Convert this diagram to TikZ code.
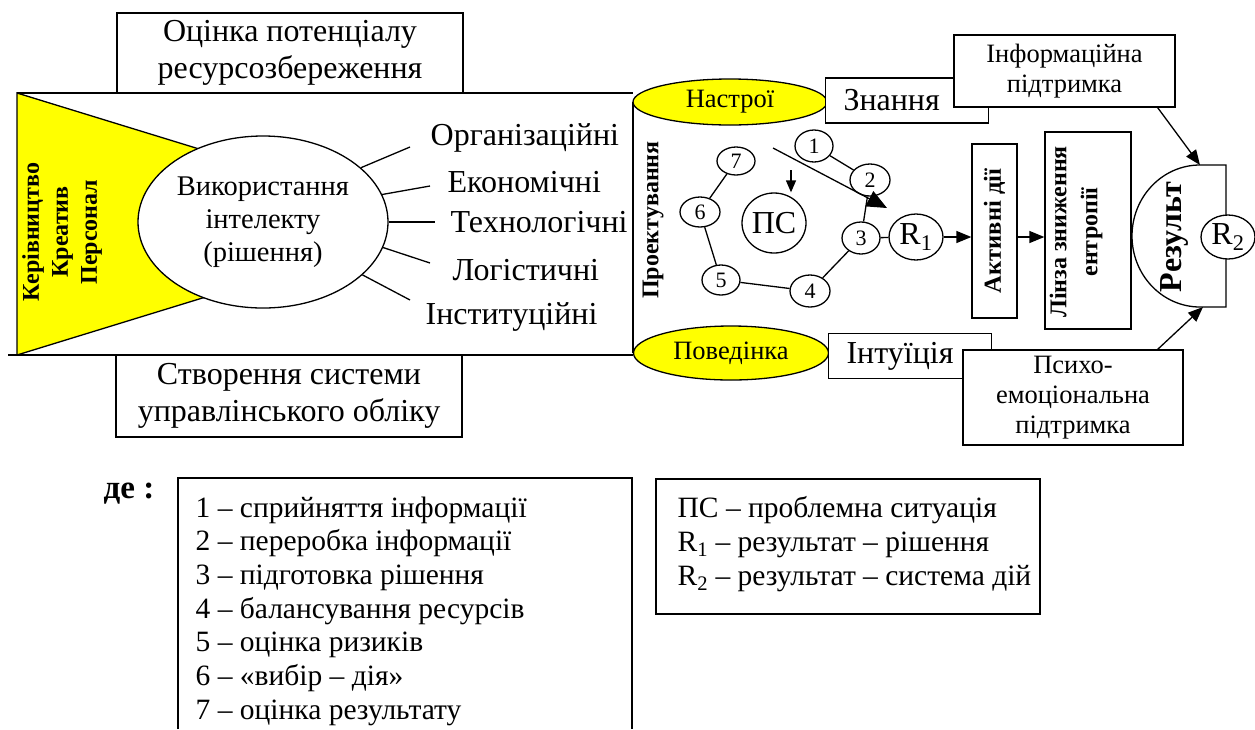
\documentclass[tikz,border=0pt]{standalone}
\usepackage{fontspec}
\setmainfont{Liberation Serif}
\definecolor{mInk}{HTML}{000000}
\definecolor{mYellow}{HTML}{FFFF00}
\usetikzlibrary{positioning,arrows.meta,calc,shapes.geometric}

\begin{document}
\begin{tikzpicture}[x=1pt, y=-1pt, line width=1.3pt,
  box/.style={draw=mInk, fill=white, rectangle, inner sep=0pt, align=center},
  sidebox/.style={box, align=left, text width=127pt, inner xsep=18pt, minimum height=45pt, fBig},
  oval/.style={draw=mInk, fill=white, ellipse, inner sep=0pt},
  mood/.style={draw=mInk, fill=mYellow, ellipse, inner sep=0pt, font=\fontsize{26.5}{30}\selectfont},
  arr/.style={-{Triangle[length=15pt,width=12pt]}},
  fBig/.style={font=\fontsize{32}{37}\selectfont},
  fMid/.style={font=\fontsize{26.5}{30}\selectfont},
  fNum/.style={font=\fontsize{22}{26}\selectfont},
  fLeg/.style={font=\fontsize{29.5}{33.7}\selectfont},
  fBold/.style={font=\bfseries\fontsize{24.5}{29}\selectfont}]
\useasboundingbox (0,0) rectangle (1255,729);
% frame with the yellow wedge
\draw (17,93) -- (633,93); \draw (8,355) -- (633,355); \draw (633,102) -- (633,353);
\filldraw[fill=mYellow] (17,93) -- (300,180) -- (300,268) -- (17,355) -- cycle;
\node[oval, minimum width=250pt, minimum height=172pt, align=center, font=\fontsize{28.5}{33}\selectfont] (intel) at (263,222) {Використання\\інтелекту\\(рішення)};
\node[rotate=90, align=center, font=\bfseries\fontsize{24}{29}\selectfont] (staff) at (62,232) {Керівництво\\Креатив\\Персонал};
\node[box, fBig, minimum width=346pt, minimum height=80pt] (potential) at (290,53) {Оцінка потенціалу\\ресурсозбереження};
\node[box, fBig, minimum width=346pt, minimum height=82pt] (accounting) at (289,396) {Створення системи\\управлінського обліку};
% kinds of decisions
\node[fBig, anchor=west, inner sep=0pt] (org) at (430,138) {Організаційні};
\node[fBig, anchor=west, inner sep=0pt] (eco) at (447,182) {Економічні};
\node[fBig, anchor=west, inner sep=0pt] (tech) at (450,222) {Технологічні};
\node[fBig, anchor=west, inner sep=0pt] (logi) at (452,270) {Логістичні};
\node[fBig, anchor=west, inner sep=0pt] (inst) at (425,317) {Інституційні};
\draw (intel.29) -- ($(org.west)+(-20,9)$); \draw (intel.13) -- ($(eco.west)+(-17,4)$);
\draw (intel.0) -- ($(tech.west)+(-15,0)$); \draw (intel.-12) -- ($(logi.west)+(-22,-7)$);
\draw (intel.-28) -- ($(inst.west)+(-15,-17)$);
% design block
\node[mood, minimum width=194pt, minimum height=46pt] (moodTop) at (730,102) {Настрої};
\node[mood, minimum width=195pt, minimum height=54pt] (behav) at (731,353) {Поведінка};
\node[rotate=90, font=\bfseries\fontsize{24}{29}\selectfont] (design) at (653,220) {Проектування};
\node[sidebox] (know) at (907,100.5) {Знання};
\node[box, fMid, minimum width=221pt, minimum height=72pt] (info) at (1064.5,71) {Інформаційна\\підтримка};
\node[sidebox] (intuit) at (910,356) {Інтуїція};
\node[box, fMid, minimum width=220pt, minimum height=95pt] (psycho) at (1073,397.5) {Психо-\\емоціональна\\підтримка};
% decision cycle
\node[oval, fNum, minimum width=38pt, minimum height=32pt] (c1) at (814,146) {1};
\node[oval, fNum, minimum width=40pt, minimum height=32pt] (c2) at (870,180) {2};
\node[oval, fNum, minimum width=38pt, minimum height=32pt] (c3) at (861,238) {3};
\node[oval, fNum, minimum width=40pt, minimum height=32pt] (c4) at (810,291) {4};
\node[oval, fNum, minimum width=38pt, minimum height=30pt] (c5) at (721,280) {5};
\node[oval, fNum, minimum width=40pt, minimum height=30pt] (c6) at (700,212) {6};
\node[oval, fNum, minimum width=38pt, minimum height=28pt] (c7) at (736,161) {7};
\node[oval, fBig, minimum width=64pt, minimum height=60pt] (ps) at (774,223) {ПС};
\draw (c1) -- (c2); \draw (c2) -- (c3); \draw (c3) -- (c4); \draw (c4) -- (c5); \draw (c5) -- (c6); \draw (c6) -- (c7);
\coordinate (loopS) at (773,148); \coordinate (loopE) at (887,208); \coordinate (psIn) at (791,170);
\draw[-{Triangle[length=20pt,width=17pt]}] (loopS) -- (loopE);
\draw[-{Triangle[length=12pt,width=10pt]}] (psIn) -- (psIn |- ps.north);
% towards the result
\node[oval, fBig, minimum width=54pt, minimum height=46pt] (r1) at (916,237) {R\textsubscript{1}};
\draw (c3) -- (r1);
\node[box, rotate=90, fBold, minimum width=174pt, minimum height=45pt] (active) at (994.5,231) {Активні дії};
\node[box, rotate=90, minimum width=197pt, minimum height=86pt] (lens) at (1088,230.5) {};
\node[rotate=90, align=center, font=\bfseries\fontsize{24}{31}\selectfont] (lensText) at (1076,232) {Лінза зниження\\ентропії};
\draw (1200,165) -- (1226,165) -- (1226,307) -- (1200,307) arc[start angle=270, end angle=90, x radius=68pt, y radius=71pt];
\node[rotate=90, font=\bfseries\fontsize{32}{38}\selectfont] (result) at (1174,237) {Результ};
\node[oval, fBig, minimum width=54pt, minimum height=44pt] (r2) at (1228,237) {R\textsubscript{2}};
\coordinate (resTop) at (1200,165); \coordinate (resBot) at (1203,307);
\draw[arr] (r1) -- (r1 -| active.north); \draw[arr] (r1 -| active.south) -- (r1 -| lens.north);
\draw[arr] ($(info.south east)+(-18,0)$) -- (resTop); \draw[arr] ($(psycho.north east)+(-26,0)$) -- (resBot);
% legend
\node[font=\bfseries\fontsize{33}{36}\selectfont] (where) at (129,494) {де :};
\draw (178,729) -- (178,478) -- (632,478) -- (632,729);
\node[fLeg, anchor=north west, align=left, inner sep=0pt] (stages) at (195,496) {1 – сприйняття інформації\\2 – переробка інформації\\3 – підготовка рішення\\4 – балансування ресурсів\\5 – оцінка ризиків\\6 – «вибір – дія»\\7 – оцінка результату};
\node[box, minimum width=384pt, minimum height=135pt] (notation) at (848,546.5) {};
\node[fLeg, anchor=north west, align=left, inner sep=0pt] (notationText) at (677,496) {ПС – проблемна ситуація\\R\textsubscript{1} – результат – рішення\\R\textsubscript{2} – результат – система дій};
\end{tikzpicture}
\end{document}
